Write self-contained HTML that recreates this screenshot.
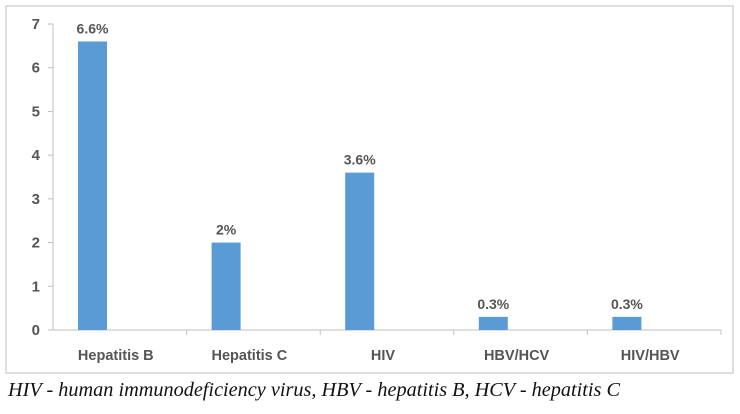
<!DOCTYPE html>
<html><head><meta charset="utf-8"><style>
body{margin:0;background:#fff;width:740px;height:409px;overflow:hidden}
svg text{font-family:"Liberation Sans",sans-serif}
</style></head><body>
<svg width="740" height="409">
<rect x="6" y="6" width="727" height="367" fill="#fff" stroke="#bfbfbf"/>
<g id="g"></g>
<text x="8" y="396" font-style="italic" font-size="20" fill="#111" textLength="612" lengthAdjust="spacingAndGlyphs" style="font-family:'Liberation Serif',serif">HIV - human immunodeficiency virus, HBV - hepatitis B, HCV - hepatitis C</text>
</svg>
<script>
const categories=["Hepatitis B","Hepatitis C","HIV","HBV/HCV","HIV/HBV"];
const values=[6.6,2,3.6,0.3,0.3];
const labels=["6.6%","2%","3.6%","0.3%","0.3%"];
const yTicks=[0,1,2,3,4,5,6,7];
const ns="http://www.w3.org/2000/svg",g=document.getElementById("g");
const x0=53,x1=721,y0=330,y1=24,ymax=7;
const bw=(x1-x0)/categories.length;
const y=v=>y0-(y0-y1)*v/ymax;
function mk(t,a,txt){const e=document.createElementNS(ns,t);for(const k in a)e.setAttribute(k,a[k]);if(txt!=null)e.textContent=txt;g.appendChild(e);return e;}
let ax=mk("line",{x1:x0,y1:y0,x2:x0,y2:y1,stroke:"#bfbfbf"});


let bx=mk("line",{x1:x0,y1:y0,x2:x1,y2:y0,stroke:"#bfbfbf"});


yTicks.forEach(t=>{
 const l=mk("line",{x1:x0-5,y1:y(t),x2:x0,y2:y(t),stroke:"#bfbfbf"});
 
 
 const tx=mk("text",{x:40,y:y(t)+5,"text-anchor":"end","font-size":"15","font-weight":"bold",fill:"#555"},t);
 
 
});
categories.forEach((c,i)=>{
 const s=x0+i*bw;
 const tk=mk("line",{x1:s+bw,y1:y0,x2:s+bw,y2:y0+5,stroke:"#bfbfbf"});
 
 
 const r=mk("rect",{x:s+25,y:y(values[i]),width:29,height:y0-y(values[i]),fill:"#5b9bd5"});
 
 
 const v=mk("text",{x:s+39.5,y:y(values[i])-8,"text-anchor":"middle","font-size":"14","font-weight":"bold",fill:"#555"},labels[i]);
 
 
 const cl=mk("text",{x:s+bw/2-4,y:360,"text-anchor":"middle","font-size":"14.5","font-weight":"bold",fill:"#555"},c);
 
 
});
</script>
</body></html>
